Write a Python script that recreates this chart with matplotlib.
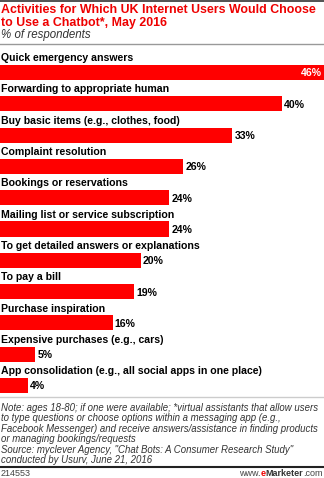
import matplotlib.pyplot as plt
from matplotlib.lines import Line2D

plt.rcParams['font.family'] = ['Liberation Sans', 'DejaVu Sans']

# Survey data
activities = [
    "Quick emergency answers",
    "Forwarding to appropriate human",
    "Buy basic items (e.g., clothes, food)",
    "Complaint resolution",
    "Bookings or reservations",
    "Mailing list or service subscription",
    "To get detailed answers or explanations",
    "To pay a bill",
    "Purchase inspiration",
    "Expensive purchases (e.g., cars)",
    "App consolidation (e.g., all social apps in one place)",
]
shares = [46, 40, 33, 26, 24, 24, 20, 19, 16, 5, 4]

W, H = 324, 478
RED = '#ee0000'

fig = plt.figure(figsize=(W / 100, H / 100), dpi=100)


def fy(px):
    return 1 - px / H


# header
fig.add_artist(Line2D([0, 1], [fy(0.5), fy(0.5)], color='#333333', lw=1.2))
fig.text(1 / W, fy(10), "Activities for Which UK Internet Users Would Choose",
         color=RED, fontsize=8.9, fontweight='bold', va='center')
fig.text(1 / W, fy(23), "to Use a Chatbot*, May 2016",
         color=RED, fontsize=8.9, fontweight='bold', va='center')
fig.text(1 / W, fy(35), "% of respondents", color='#333333', fontsize=8.3,
         style='italic', va='center')
fig.add_artist(Line2D([0, 1], [fy(44), fy(44)], color='#999999', lw=1))

# bar area
top_px, bot_px = 49, 393.5
ax = fig.add_axes([0, fy(bot_px), 1, (bot_px - top_px) / H])
n = len(shares)
ys = list(range(n))
ax.barh(ys, shares, height=0.48, color='#ff0000', edgecolor='none')
ax.set_xlim(0, 46)
ax.set_ylim(10.256, -0.751)
ax.axis('off')

for y, name, v in zip(ys, activities, shares):
    ax.text(0.15, y - 0.3, name, fontsize=7.6, fontweight='bold', va='bottom',
            ha='left', color='black')
    if v == max(shares):
        ax.text(v - 0.3, y + 0.03, f"{v}%", fontsize=7.6, fontweight='bold',
                color='white', va='center', ha='right')
    else:
        ax.text(v + 0.3, y + 0.03, f"{v}%", fontsize=7.6, fontweight='bold',
                color='black', va='center', ha='left')

fig.add_artist(Line2D([0, 1], [fy(396.5), fy(396.5)], color='#cccccc', lw=1))

# notes
notes = [
    "Note: ages 18-80; if one were available; *virtual assistants that allow users",
    "to type questions or choose options within a messaging app (e.g.,",
    "Facebook Messenger) and receive answers/assistance in finding products",
    "or managing bookings/requests",
    "Source: myclever Agency, \"Chat Bots: A Consumer Research Study\"",
    "conducted by Usurv, June 21, 2016",
]
for i, line in enumerate(notes):
    fig.text(1 / W, fy(408 + i * 10.4), line, fontsize=6.9, style='italic',
             color='#333333', va='center')

# footer: id on the left, site name built right-to-left
fig.add_artist(Line2D([0, 1], [fy(466.5), fy(466.5)], color='#222222', lw=1.5))
fig.text(1 / W, fy(474), "214553", fontsize=6.5, color='#444444', va='center')
com = fig.text(1 - 1 / W, fy(474), ".com", fontsize=6.5, color='#444444',
               va='center', ha='right')
mk = fig.add_artist(plt.Annotation("Marketer", xy=(0, 0), xycoords=com,
                                   fontsize=6.5, color='#333333',
                                   fontweight='bold', va='bottom', ha='right'))
e = fig.add_artist(plt.Annotation("e", xy=(0, 0), xycoords=mk, fontsize=6.5,
                                  color=RED, fontweight='bold', va='bottom',
                                  ha='right'))
fig.add_artist(plt.Annotation("www.", xy=(0, 0), xycoords=e, fontsize=6.5,
                              color='#444444', va='bottom', ha='right'))

fig.savefig('out.png', dpi=100)
